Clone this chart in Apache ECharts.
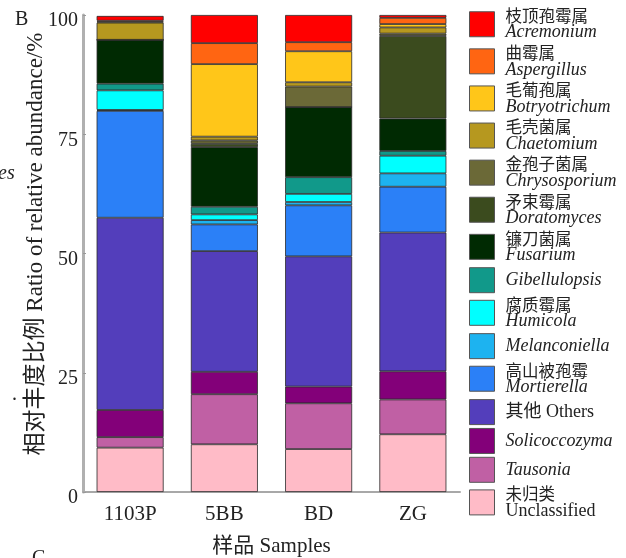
<!DOCTYPE html>
<html>
<head>
<meta charset="utf-8">
<script src="https://cdn.jsdelivr.net/npm/echarts@6/dist/echarts.min.js"></script>
<style>
  html, body { margin: 0; padding: 0; background: #fff; }
  #chart { width: 626px; height: 558px; }
</style>
</head>
<body>
<div id="chart"></div>
<script>
// Sample sites on the x axis
const samples = ['1103P', '5BB', 'BD', 'ZG'];

// Relative abundance (%) per genus, stacked bottom to top
const Unclassified  = [9.3, 10.0, 9.0, 12.1];
const Tausonia      = [2.2, 10.5, 9.6, 7.3];
const Solicoccozyma = [5.7, 4.7, 3.5, 5.9];
const Others        = [40.3, 25.3, 27.3, 29.1];
const Mortierella   = [22.4, 5.6, 10.7, 9.6];
const Melanconiella = [0.2, 0.9, 0.7, 2.8];
const Humicola      = [4.1, 1.2, 1.7, 3.7];
const Gibellulopsis = [1.4, 1.6, 3.5, 1.0];
const Fusarium      = [9.2, 12.5, 14.7, 6.8];
const Doratomyces   = [0.0, 0.7, 0.0, 17.3];
const Chrysosporium = [0.0, 0.7, 4.3, 0.5];
const Chaetomium    = [3.6, 0.8, 0.9, 1.3];
const Botryotrichum = [0.2, 15.2, 6.5, 0.7];
const Aspergillus   = [0.2, 4.4, 1.9, 1.3];
const Acremonium    = [1.0, 5.9, 5.7, 0.6];

// Stack order (bottom first), Chinese names and colours
const taxa = ['Unclassified', 'Tausonia', 'Solicoccozyma', 'Others', 'Mortierella',
  'Melanconiella', 'Humicola', 'Gibellulopsis', 'Fusarium', 'Doratomyces',
  'Chrysosporium', 'Chaetomium', 'Botryotrichum', 'Aspergillus', 'Acremonium'];
const values = [Unclassified, Tausonia, Solicoccozyma, Others, Mortierella,
  Melanconiella, Humicola, Gibellulopsis, Fusarium, Doratomyces,
  Chrysosporium, Chaetomium, Botryotrichum, Aspergillus, Acremonium];
const cnNames = ['未归类', '', '', '其他', '高山被孢霉',
  '', '腐质霉属', '', '镰刀菌属', '矛束霉属',
  '金孢子菌属', '毛壳菌属', '毛葡孢属', '曲霉属', '枝顶孢霉属'];
const colors = ['#FFBBC7', '#C060A4', '#830079', '#533EBB', '#2B80F7',
  '#1DB3F0', '#00FFFF', '#11998A', '#002A02', '#3B4B1E',
  '#6B6937', '#B6981F', '#FFC619', '#FF6512', '#FF0000'];
const yTicks = [0, 25, 50, 75, 100];
const yTitle = '相对丰度比例 Ratio of relative abundance/%';

const SERIF = "'Liberation Serif', 'Times New Roman', 'Noto Sans CJK SC', serif";
const CJK = "'Noto Sans CJK SC', sans-serif";

const series = taxa.map((name, i) => ({
  name: name,
  type: 'bar',
  stack: 'total',
  barWidth: 67,
  data: values[i],
  itemStyle: { color: colors[i], borderColor: '#2a2a2a', borderWidth: 0.8 },
  emphasis: { disabled: true }
}));

function legendLabel(name) {
  const cn = cnNames[taxa.indexOf(name)];
  if (name === 'Others') return '{one|其他 Others}';
  if (name === 'Unclassified') return '{cn|' + cn + '}\n{up|' + name + '}';
  if (cn) return '{cn|' + cn + '}\n{it|' + name + '}';
  return '{solo|' + name + '}';
}

const chart = echarts.init(document.getElementById('chart'), null, { renderer: 'canvas' });
chart.setOption({
  animation: false,
  backgroundColor: '#fff',
  grid: { left: 83, right: 166, top: 15, bottom: 66, containLabel: false, outerBoundsMode: 'none' },
  xAxis: {
    type: 'category',
    data: samples,
    name: '样品 Samples',
    nameLocation: 'middle',
    nameGap: 44,
    nameTextStyle: { fontFamily: SERIF, fontSize: 21, color: '#222' },
    axisLine: { lineStyle: { color: '#a8a8a8', width: 2 } },
    axisTick: { alignWithLabel: true, length: 3, lineStyle: { color: '#222' } },
    axisLabel: { fontFamily: SERIF, fontSize: 21, color: '#222', margin: 12 }
  },
  yAxis: {
    type: 'value',
    min: 0,
    max: 100,
    interval: 25,
    axisLine: { show: true, lineStyle: { color: '#b0b0b0', width: 3 } },
    axisTick: { show: true, inside: true, length: 3, lineStyle: { color: '#999' } },
    splitLine: { show: false },
    axisLabel: {
      fontFamily: SERIF, fontSize: 20, color: '#222', margin: 5,
      verticalAlign: 'top', lineHeight: 12,
      formatter: v => (yTicks.indexOf(v) >= 0 ? String(v) : '')
    }
  },
  legend: {
    orient: 'vertical',
    left: 469,
    top: 7.5,
    padding: 0,
    itemWidth: 25,
    itemHeight: 25,
    itemGap: 2.85,
    icon: 'rect',
    selectedMode: false,
    data: taxa.slice().reverse(),
    itemStyle: { borderColor: '#555', borderWidth: 1 },
    formatter: legendLabel,
    textStyle: {
      color: '#222',
      rich: {
        cn:   { fontFamily: CJK, fontSize: 16.5, lineHeight: 17, color: '#222', padding: [0, 0, 0, 6] },
        it:   { fontFamily: SERIF, fontStyle: 'italic', fontSize: 18, lineHeight: 17, color: '#222', padding: [0, 0, 0, 6] },
        up:   { fontFamily: SERIF, fontSize: 18, lineHeight: 17, color: '#222', padding: [0, 0, 0, 6] },
        solo: { fontFamily: SERIF, fontStyle: 'italic', fontSize: 18, lineHeight: 34, color: '#222', padding: [0, 0, 0, 6] },
        one:  { fontFamily: SERIF, fontSize: 18, lineHeight: 34, color: '#222', padding: [0, 0, 0, 6] }
      }
    }
  },
  graphic: [
    {
      type: 'text', x: 36, y: 244, rotation: Math.PI / 2,
      style: { text: yTitle, font: "23px 'Liberation Serif', 'Noto Sans CJK SC'", fill: '#222', align: 'center', verticalAlign: 'middle' }
    },
    { type: 'text', left: 15, top: 10, style: { text: 'B', font: "20px 'Liberation Serif'", fill: '#222' } },
    { type: 'text', left: -2, top: 164, style: { text: 'es', font: "italic 20px 'Liberation Serif'", fill: '#222' } },
    { type: 'text', left: 12, top: 385, style: { text: '.', font: "20px 'Liberation Serif'", fill: '#222' } },
    { type: 'text', left: 32, top: 549, style: { text: 'C', font: "20px 'Liberation Serif'", fill: '#222' } }
  ],
  series: series
});
</script>
</body>
</html>
